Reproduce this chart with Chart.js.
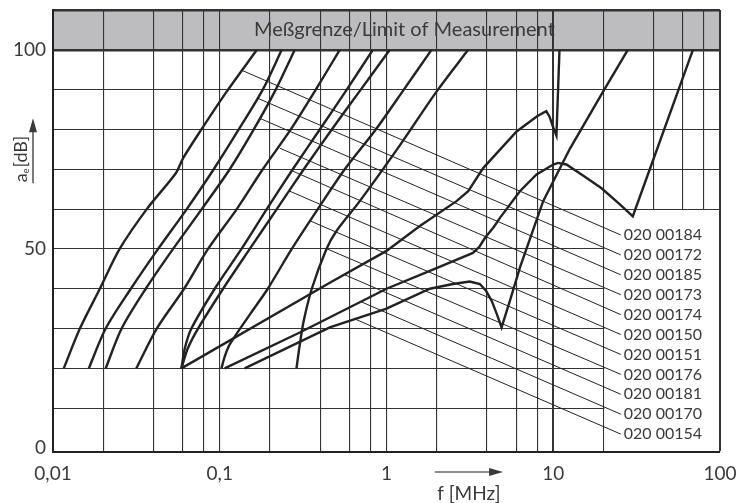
<!DOCTYPE html>
<html>
<head>
<meta charset="utf-8">
<title>Schirmdämpfung</title>
<script src="https://cdn.jsdelivr.net/npm/chart.js@4.4.1/dist/chart.umd.min.js"></script>
<style>
  html, body { margin: 0; padding: 0; background: #fff; }
  #wrap { width: 736px; height: 503px; }
</style>
</head>
<body>
<div id="wrap"><canvas id="attChart" width="736" height="503"></canvas></div>
<script>
// curves: frequency [MHz] and attenuation a_e [dB]
const freqA = [0.0116, 0.0145, 0.0191, 0.0251, 0.0365, 0.0545, 0.0603, 0.0776, 0.110, 0.167];
const dbA   = [20, 30, 40, 50, 60, 69, 72.8, 80, 89.5, 100];

const freqB = [0.0164, 0.0207, 0.0293, 0.0427, 0.0634, 0.0920, 0.1300, 0.1811, 0.2354];
const dbB   = [20, 30, 40, 50, 60, 70, 80, 90, 100];

const freqC = [0.0207, 0.0258, 0.0360, 0.0525, 0.0780, 0.1148, 0.1600, 0.2167, 0.2818];
const dbC   = [20, 30, 40, 50, 60, 70, 80, 90, 100];

const freqD = [0.0316, 0.0419, 0.0611, 0.0851, 0.1265, 0.1811, 0.2667, 0.3766, 0.5247];
const dbD   = [20, 30, 40, 50, 60, 70, 80, 90, 100];

const freqE = [0.0589, 0.0617, 0.0676, 0.0933, 0.1350, 0.1914, 0.2741, 0.3980, 0.5778, 0.8277];
const dbE   = [20, 25, 30, 40, 50, 60, 70, 80, 90, 100];

const freqF = [0.0589, 0.0643, 0.0741, 0.1047, 0.1514, 0.2198, 0.3191, 0.4697, 0.7010, 1.047];
const dbF   = [20, 25, 30, 40, 50, 60, 70, 80, 90, 100];

const freqG = [0.0589, 0.457, 1.0, 1.585, 2.63, 3.09, 3.8, 6.03, 8.0, 9.08, 9.5, 10.0, 10.45, 10.9];
const dbG   = [20, 41.5, 49.5, 55.75, 62, 64.5, 70.3, 79.5, 83.3, 84.6, 83.2, 80.5, 78.5, 100];

const freqH = [0.1024, 0.1072, 0.1148, 0.1514, 0.1941, 0.2704, 0.3872, 0.5621, 0.8627, 1.270, 1.862];
const dbH   = [20, 23, 26, 33.5, 40, 50, 60, 70, 80, 90, 100];

const freqI = [0.107, 0.302, 1.0, 1.82, 3.3, 3.6, 3.9, 4.4, 4.79, 6.31, 7.94, 10.0, 10.7, 12.0, 15.0, 19.4, 25.1, 30.0, 68.8];
const dbI   = [20, 29, 40, 44.5, 49, 50.5, 52.8, 55.5, 57.8, 64.5, 68.7, 71.2, 71.6, 71.2, 68.5, 65.3, 61.2, 58.2, 100];

const freqJ = [0.141, 0.457, 1.0, 1.82, 2.5, 3.16, 3.63, 3.95, 4.27, 4.6, 4.9, 5.5, 6.31, 8.7, 12.6, 19.9, 28.0];
const dbJ   = [20, 30.3, 35, 40, 41.2, 41.8, 41.2, 39.5, 37, 33.5, 30.3, 37, 45.3, 62, 75.2, 89.5, 100];

const freqK = [0.2885, 0.3020, 0.3191, 0.3564, 0.4365, 0.5013, 0.6914, 1.202, 1.995, 3.087];
const dbK   = [20, 26, 32, 40, 50, 54.5, 62, 76, 89.5, 100];

// part numbers (top to bottom) and where each leader line touches its curve
const partNumbers = ['020 00184', '020 00172', '020 00185', '020 00173', '020 00174', '020 00150',
                     '020 00151', '020 00176', '020 00181', '020 00170', '020 00154'];
const leaderFreq = [0.1350, 0.1697, 0.1738, 0.2291, 0.2753, 0.2630, 0.350, 0.440, 0.5621, 0.702, 0.647];
const leaderDb   = [94.9, 87.8, 82.8, 75.3, 69.5, 64.5, 57, 50, 43.5, 36.75, 32.4];
const labelDb    = [53.5, 48.5, 43.5, 38.5, 33.5, 28.5, 23.5, 18.5, 13.5, 8.5, 3.5];

// axes
const xGridMHz = [0.01, 0.02, 0.04, 0.06, 0.08, 0.1, 0.2, 0.4, 0.6, 0.8, 1, 2, 4, 6, 8, 10, 20, 40, 60, 80, 100];
const yGridDb  = [10, 20, 30, 40, 50, 60, 70, 80, 90, 100, 110];
const xTickMHz = [0.01, 0.1, 1, 10, 100];
const xTickText = ['0,01', '0,1', '1', '10', '100'];
const yTickDb  = [0, 50, 100];

const limitText = 'Meßgrenze/Limit of Measurement';

const INK = '#222';
const TXT = '#3a3a3a';
const FONT = 'Lato, "Open Sans", sans-serif';

const pts = (f, d) => f.map((v, i) => ({ x: v, y: d[i] }));

const curves = [
  [freqA, dbA], [freqB, dbB], [freqC, dbC], [freqD, dbD], [freqE, dbE], [freqF, dbF],
  [freqH, dbH], [freqK, dbK]
].map(([f, d]) => ({
  data: pts(f, d), borderColor: INK, borderWidth: 2.4, pointRadius: 0, tension: 0.3, fill: false
}));

// curves with sharp dips stay straight between points
[[freqG, dbG], [freqI, dbI], [freqJ, dbJ]].forEach(([f, d]) => {
  curves.push({ data: pts(f, d), borderColor: INK, borderWidth: 2.4, pointRadius: 0, tension: 0, fill: false });
});

// leader lines from the curves to the part numbers
const labelEndMHz = 25.4;
const leaders = partNumbers.map((p, i) => ({
  data: [{ x: leaderFreq[i], y: leaderDb[i] }, { x: labelEndMHz, y: labelDb[i] }],
  borderColor: INK, borderWidth: 1, pointRadius: 0, tension: 0, fill: false
}));

const boxFromMHz = 20, boxTopDb = 60;

const sheetPlugin = {
  id: 'sheet',
  beforeDraw(chart) {
    const { ctx, chartArea: a, scales: { x, y } } = chart;
    ctx.save();
    ctx.fillStyle = '#ffffff';
    ctx.fillRect(0, 0, chart.width, chart.height);
    // grey band = limit of measurement
    const t = y.getPixelForValue(110), b = y.getPixelForValue(100);
    ctx.fillStyle = '#bdbdc0';
    ctx.fillRect(a.left, t, a.right - a.left, b - t);
    ctx.restore();
  },
  beforeDatasetsDraw(chart) {
    const { ctx, chartArea: a, scales: { x, y } } = chart;
    // empty field for the part numbers
    const x0 = x.getPixelForValue(boxFromMHz), y0 = y.getPixelForValue(boxTopDb);
    ctx.save();
    ctx.fillStyle = '#ffffff';
    ctx.fillRect(x0 + 1, y0 + 1, a.right - x0 - 2, a.bottom - y0 - 2);
    ctx.restore();
  },
  afterDraw(chart) {
    const { ctx, chartArea: a, scales: { x, y } } = chart;
    ctx.save();
    ctx.fillStyle = TXT;

    // band text
    ctx.font = '20px ' + FONT;
    ctx.textAlign = 'center';
    ctx.textBaseline = 'middle';
    ctx.fillText(limitText, x.getPixelForValue(1.28), y.getPixelForValue(105));

    // part numbers
    ctx.font = '16px ' + FONT;
    ctx.textAlign = 'left';
    partNumbers.forEach((p, i) => {
      ctx.fillText(p, x.getPixelForValue(labelEndMHz) + 3, y.getPixelForValue(labelDb[i]));
    });

    // tick labels
    ctx.font = '19px ' + FONT;
    ctx.textAlign = 'right';
    yTickDb.forEach(v => {
      ctx.fillText(String(v), a.left - 7, y.getPixelForValue(Math.max(v, y.min)));
    });
    ctx.textAlign = 'center';
    ctx.textBaseline = 'alphabetic';
    xTickMHz.forEach((v, i) => {
      ctx.fillText(xTickText[i], x.getPixelForValue(v), a.bottom + 28);
    });

    // x title with arrow
    const ax0 = x.getPixelForValue(2.0) - 2, ax1 = x.getPixelForValue(5.0);
    const ay = a.bottom + 20;
    ctx.strokeStyle = INK;
    ctx.lineWidth = 1.2;
    ctx.beginPath(); ctx.moveTo(ax0, ay); ctx.lineTo(ax1 - 8, ay); ctx.stroke();
    ctx.beginPath(); ctx.moveTo(ax1, ay); ctx.lineTo(ax1 - 14, ay - 4); ctx.lineTo(ax1 - 14, ay + 4); ctx.closePath(); ctx.fill();
    ctx.font = '19px ' + FONT;
    ctx.textAlign = 'center';
    ctx.textBaseline = 'middle';
    ctx.fillText('f [MHz]', (ax0 + ax1) / 2, a.bottom + 42);

    // y title with arrow
    const yb = y.getPixelForValue(66.5), yt = y.getPixelForValue(82.8);
    const axx = a.left - 20;
    ctx.beginPath(); ctx.moveTo(axx, yb); ctx.lineTo(axx, yt + 8); ctx.stroke();
    ctx.beginPath(); ctx.moveTo(axx, yt); ctx.lineTo(axx - 4, yt + 14); ctx.lineTo(axx + 4, yt + 14); ctx.closePath(); ctx.fill();
    ctx.translate(axx - 6, yb);
    ctx.rotate(-Math.PI / 2);
    ctx.textAlign = 'left';
    ctx.textBaseline = 'alphabetic';
    ctx.font = '18px ' + FONT;
    ctx.fillText('a', 1, 0);
    let w = ctx.measureText('a').width + 1;
    ctx.font = '9px ' + FONT;
    ctx.fillText('e', w, 2);
    w += ctx.measureText('e').width + 1;
    ctx.font = '18px ' + FONT;
    ctx.fillText('[dB]', w, 0);
    ctx.restore();
  }
};

const ctx = document.getElementById('attChart').getContext('2d');
new Chart(ctx, {
  type: 'line',
  data: { datasets: curves.concat(leaders) },
  options: {
    responsive: false,
    animation: false,
    layout: { padding: { left: 53, right: 16, top: 10, bottom: 51 } },
    plugins: { legend: { display: false }, tooltip: { enabled: false } },
    scales: {
      x: {
        type: 'logarithmic',
        min: 0.01,
        max: 100,
        afterBuildTicks: s => { s.ticks = xGridMHz.map(v => ({ value: v })); },
        ticks: { display: false },
        grid: {
          drawTicks: false,
          color: '#333',
          lineWidth: c => (c.tick && (c.tick.value === 10 || c.tick.value === 100)) ? 2 : 1.1
        },
        border: { color: INK, width: 2 }
      },
      y: {
        type: 'linear',
        min: -1,
        max: 110,
        afterBuildTicks: s => { s.ticks = yGridDb.map(v => ({ value: v })); },
        ticks: { display: false },
        grid: {
          drawTicks: false,
          color: '#333',
          lineWidth: c => (c.tick && (c.tick.value === 100 || c.tick.value === 110)) ? 2.4 : 1.1
        },
        border: { color: INK, width: 2 }
      }
    }
  },
  plugins: [sheetPlugin]
});
</script>
</body>
</html>
